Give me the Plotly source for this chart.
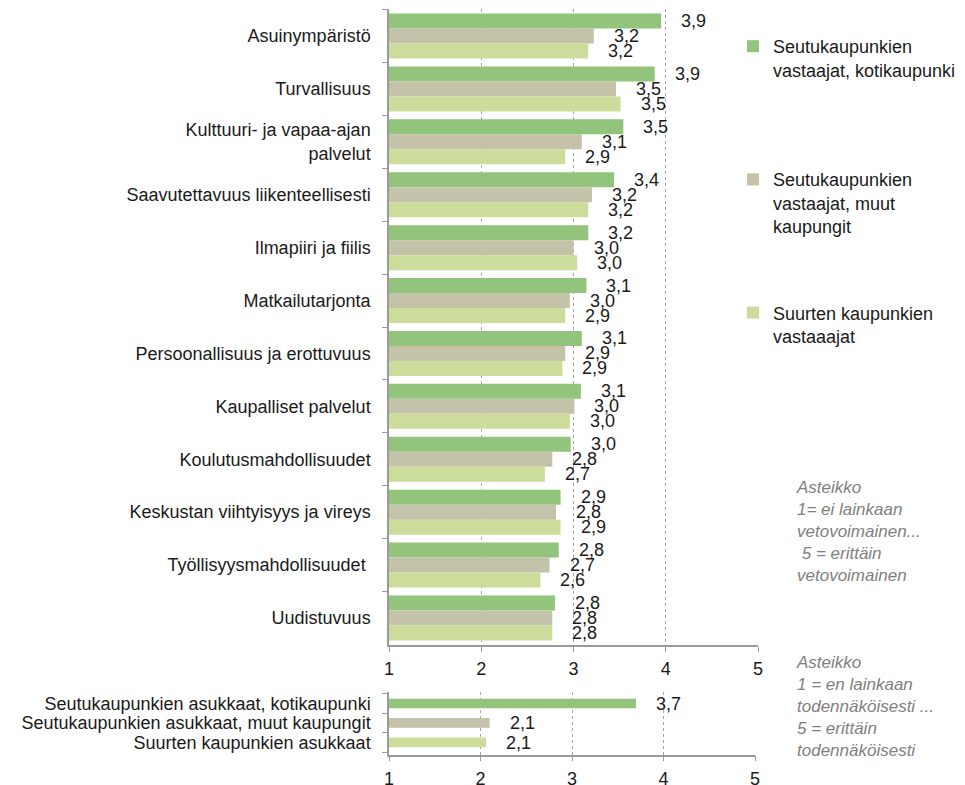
import plotly.graph_objects as go

categories = [
    "Asuinympäristö",
    "Turvallisuus",
    "Kulttuuri- ja vapaa-ajan<br>palvelut",
    "Saavutettavuus liikenteellisesti",
    "Ilmapiiri ja fiilis",
    "Matkailutarjonta",
    "Persoonallisuus ja erottuvuus",
    "Kaupalliset palvelut",
    "Koulutusmahdollisuudet",
    "Keskustan viihtyisyys ja vireys",
    "Työllisyysmahdollisuudet\u00a0",
    "Uudistuvuus",
]
series_names = [
    "Seutukaupunkien<br>vastaajat, kotikaupunki<br>\u00a0",
    "Seutukaupunkien<br>vastaajat, muut<br>kaupungit",
    "Suurten kaupunkien<br>vastaaajat",
]
home_city = [3.95, 3.88, 3.54, 3.44, 3.16, 3.14, 3.09, 3.08, 2.97, 2.86, 2.84, 2.80]
other_cities = [3.22, 3.46, 3.09, 3.20, 3.00, 2.96, 2.91, 3.01, 2.77, 2.81, 2.74, 2.77]
big_cities = [3.16, 3.51, 2.91, 3.16, 3.04, 2.91, 2.88, 2.96, 2.69, 2.86, 2.64, 2.77]
home_labels = ["3,9", "3,9", "3,5", "3,4", "3,2", "3,1", "3,1", "3,1", "3,0", "2,9", "2,8", "2,8"]
other_labels = ["3,2", "3,5", "3,1", "3,2", "3,0", "3,0", "2,9", "3,0", "2,8", "2,8", "2,7", "2,8"]
big_labels = ["3,2", "3,5", "2,9", "3,2", "3,0", "2,9", "2,9", "3,0", "2,7", "2,9", "2,6", "2,8"]

resident_categories = [
    "Seutukaupunkien asukkaat, kotikaupunki",
    "Seutukaupunkien asukkaat, muut kaupungit",
    "Suurten kaupunkien asukkaat",
]
resident_values = [3.70, 2.10, 2.06]
resident_labels = ["3,7", "2,1", "2,1"]

x_ticks = [1, 2, 3, 4, 5]
note_top = "Asteikko<br>1= ei lainkaan<br>vetovoimainen...<br>\u00a05 = erittäin<br>vetovoimainen"
note_bottom = "Asteikko<br>1 = en lainkaan<br>todennäköisesti ...<br>5 = erittäin<br>todennäköisesti"

colors = ["#92C47B", "#C5C2AA", "#CCDD9B"]
FONT = "Liberation Sans, Arial, sans-serif"
W, H = 965, 785
AXIS_COLOR = "#9A9A9A"
GRID_COLOR = "#A6A6A6"

top_dom_y = [1 - 645 / H, 1 - 9 / H]
bot_dom_y = [1 - 754.5 / H, 1 - 691.5 / H]
BARGAP = 0.15

fig = go.Figure()
all_vals = [home_city, other_cities, big_cities]
all_labels = [home_labels, other_labels, big_labels]
for name, vals, col in zip(series_names, all_vals, colors):
    fig.add_trace(go.Bar(
        y=categories, x=[v - 1 for v in vals], base=1, orientation="h",
        name=name, marker=dict(color=col, line=dict(width=0)),
        xaxis="x", yaxis="y", legendgroup=name, hoverinfo="skip",
    ))

fig.add_trace(go.Bar(
    y=resident_categories, x=[v - 1 for v in resident_values], base=1, orientation="h",
    marker=dict(color=colors, line=dict(width=0)), width=0.5,
    xaxis="x2", yaxis="y2", showlegend=False, hoverinfo="skip",
))

# data labels
plot_h = (top_dom_y[1] - top_dom_y[0]) * H
bar_px = plot_h / len(categories) * (1 - BARGAP) / 3
annotations = []
for k, (vals, labs) in enumerate(zip(all_vals, all_labels)):
    for c, v, t in zip(categories, vals, labs):
        annotations.append(dict(
            x=v, y=c, xref="x", yref="y", text=t, showarrow=False,
            xanchor="left", yanchor="middle", xshift=18, yshift=(1 - k) * bar_px,
            font=dict(family=FONT, size=18, color="#1A1A1A"),
        ))
for c, v, t in zip(resident_categories, resident_values, resident_labels):
    annotations.append(dict(
        x=v, y=c, xref="x2", yref="y2", text=t, showarrow=False,
        xanchor="left", yanchor="middle", xshift=18,
        font=dict(family=FONT, size=18, color="#1A1A1A"),
    ))
for txt, ytop in [(note_top, 1 - 476 / H), (note_bottom, 1 - 651 / H)]:
    annotations.append(dict(
        x=794 / W, y=ytop, xref="paper", yref="paper", text=txt, showarrow=False,
        xanchor="left", yanchor="top", align="left",
        font=dict(family=FONT, size=17, color="#808080", style="italic"),
    ))

xaxis_common = dict(
    range=[1, 5], tickvals=x_ticks, ticktext=[str(t) for t in x_ticks],
    showgrid=True, gridcolor=GRID_COLOR, griddash="dot", gridwidth=1,
    showline=True, linecolor=AXIS_COLOR, linewidth=1.5,
    ticks="outside", ticklen=5, tickcolor=AXIS_COLOR,
    tickfont=dict(family=FONT, size=18, color="#1A1A1A"),
    zeroline=False, automargin=False, fixedrange=True, ticklabelstandoff=2,
)
yaxis_common = dict(
    type="category", autorange="reversed", tickson="boundaries",
    ticks="outside", ticklen=5, tickcolor=AXIS_COLOR,
    showline=True, linecolor=AXIS_COLOR, linewidth=1.5, showgrid=False,
    tickfont=dict(family=FONT, size=18, color="#1A1A1A"),
    automargin=False, ticklabelstandoff=13, fixedrange=True,
)

fig.update_layout(
    width=W, height=H, autosize=False,
    margin=dict(l=0, r=0, t=0, b=0),
    paper_bgcolor="white", plot_bgcolor="white",
    barmode="group", bargap=BARGAP, bargroupgap=0,
    xaxis=dict(domain=[389 / W, 758 / W], anchor="y", **xaxis_common),
    yaxis=dict(domain=top_dom_y, anchor="x", **yaxis_common),
    xaxis2=dict(domain=[389 / W, 755 / W], anchor="y2", **xaxis_common),
    yaxis2=dict(domain=bot_dom_y, anchor="x2",
                tickmode="array", tickvals=resident_categories, ticktext=resident_categories,
                **yaxis_common),
    showlegend=True,
    legend=dict(
        x=733 / W, y=1 - 28 / H, xanchor="left", yanchor="top",
        traceorder="grouped", tracegroupgap=60, valign="top",
        font=dict(family=FONT, size=18, color="#1A1A1A"),
        bgcolor="rgba(0,0,0,0)", borderwidth=0, itemwidth=30,
    ),
    annotations=annotations,
)

fig.write_html(
    "out.html",
    config={"displayModeBar": False, "responsive": False},
    post_script="document.documentElement.style.overflow='hidden';document.body.style.margin='0px';document.body.style.overflow='hidden';",
)
